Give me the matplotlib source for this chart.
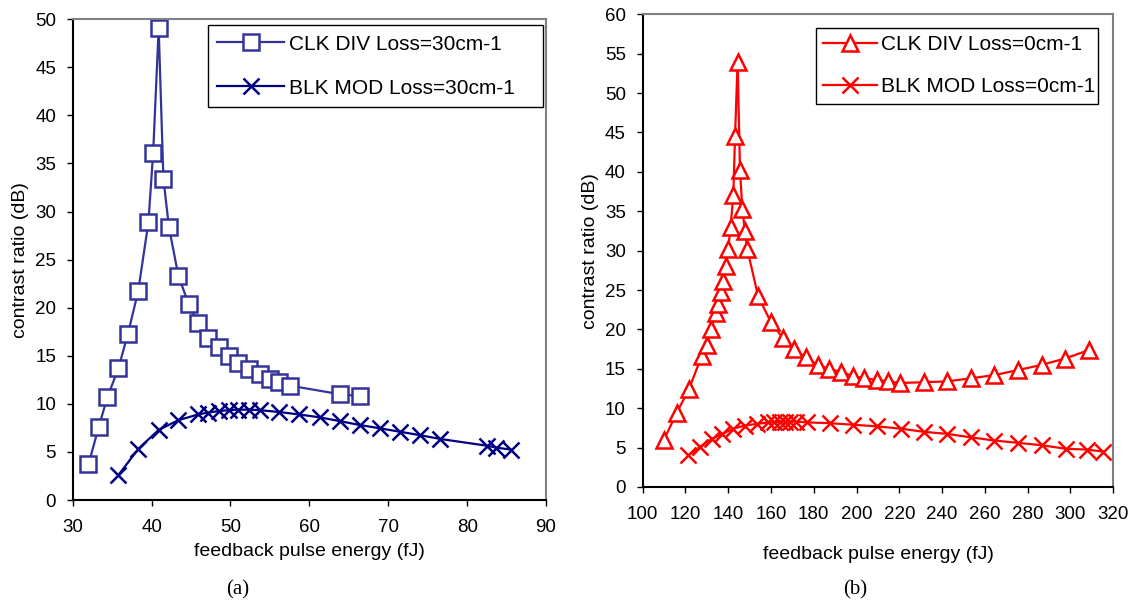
import numpy as np
import matplotlib
matplotlib.use('Agg')
import matplotlib.pyplot as plt

plt.rcParams['font.family'] = ['Liberation Sans', 'DejaVu Sans']

# (a) loss = 30 cm-1
x_a_clk = [32.0, 33.3, 34.4, 35.8, 37.0, 38.3, 39.6, 40.2, 40.9, 41.5, 42.2, 43.4, 44.7,
           45.9, 47.2, 48.5, 49.8, 51.0, 52.3, 53.7, 55.0, 56.2, 57.5, 63.9, 66.4]
y_a_clk = [3.7, 7.6, 10.7, 13.7, 17.3, 21.7, 28.9, 36.1, 49.1, 33.4, 28.4, 23.3, 20.4,
           18.4, 16.9, 15.9, 15.0, 14.2, 13.6, 13.1, 12.6, 12.3, 11.9, 11.0, 10.8]
x_a_blk = [35.8, 38.3, 40.9, 43.4, 45.9, 47.2, 48.5, 49.8, 51.0, 52.3, 53.7, 56.2, 58.7,
           61.3, 63.9, 66.4, 69.0, 71.5, 74.0, 76.6, 82.5, 83.7, 85.5]
y_a_blk = [2.6, 5.3, 7.3, 8.3, 8.9, 9.1, 9.25, 9.35, 9.4, 9.4, 9.35, 9.15, 8.9,
           8.6, 8.2, 7.8, 7.45, 7.1, 6.75, 6.35, 5.65, 5.45, 5.25]

# (b) loss = 0 cm-1
x_b_clk = [110.0, 115.9, 121.6, 127.6, 129.9, 131.9, 134.3, 135.3, 136.5, 137.4, 138.8,
           140.0, 141.1, 142.4, 143.2, 144.4, 145.5, 146.6, 147.8, 148.9, 154.0, 159.8,
           165.5, 170.7, 176.2, 181.8, 187.2, 192.7, 198.2, 203.6, 209.4, 214.8, 220.3,
           231.5, 242.1, 253.5, 264.4, 275.6, 286.5, 297.4, 308.8]
y_b_clk = [6.0, 9.4, 12.4, 16.6, 18.0, 20.0, 22.1, 23.2, 24.7, 26.2, 28.0,
           30.2, 33.0, 37.1, 44.6, 54.0, 40.3, 35.3, 32.5, 30.2, 24.2, 21.0,
           18.9, 17.5, 16.45, 15.5, 15.0, 14.6, 14.1, 13.8, 13.6, 13.4, 13.2,
           13.3, 13.4, 13.8, 14.2, 14.85, 15.5, 16.3, 17.4]
x_b_blk = [121.3, 126.8, 132.3, 136.9, 142.4, 147.8, 153.3, 158.7, 161.5, 164.0, 166.5,
           169.0, 171.5, 176.7, 187.4, 198.5, 209.4, 220.8, 231.5, 242.1, 253.5, 264.4,
           275.6, 286.5, 297.9, 307.6, 315.1]
y_b_blk = [4.0, 5.1, 6.1, 6.7, 7.4, 7.8, 8.0, 8.2, 8.2, 8.3, 8.3,
           8.3, 8.3, 8.2, 8.1, 7.9, 7.7, 7.4, 7.0, 6.75, 6.3, 5.9,
           5.6, 5.3, 4.85, 4.75, 4.5]

fig = plt.figure(figsize=(11.34, 6.01), dpi=100)
ax1 = fig.add_axes([0.0641, 0.168, 0.4174, 0.800])
ax2 = fig.add_axes([0.5667, 0.1897, 0.415, 0.7865])


def style_axes(ax):
    ax.spines['left'].set_color('black')
    ax.spines['bottom'].set_color('black')
    ax.spines['left'].set_linewidth(1.5)
    ax.spines['bottom'].set_linewidth(1.5)
    for s in ['top', 'right']:
        ax.spines[s].set_color('#808080')
        ax.spines[s].set_linewidth(1.5)
    ax.tick_params(direction='out', length=4, width=1, labelsize=13.5, top=False, right=False)
    ax.tick_params(axis='x', pad=10)
    ax.tick_params(axis='y', pad=8)


mk = dict(markersize=12, markeredgewidth=1.8, linewidth=1.6)

ax1.plot(x_a_clk, y_a_clk, color='#333399', marker='s', markerfacecolor='white',
         label='CLK DIV Loss=30cm-1', **mk)
ax1.plot(x_a_blk, y_a_blk, color='#000080', marker='x', label='BLK MOD Loss=30cm-1', **mk)
ax1.set_xlim(30, 90)
ax1.set_ylim(0, 50)
ax1.set_xticks(np.arange(30, 91, 10))
ax1.set_yticks(np.arange(0, 51, 5))
style_axes(ax1)
ax1.set_xlabel('feedback pulse energy (fJ)', fontsize=14, labelpad=5)
ax1.set_ylabel('contrast ratio (dB)', fontsize=14)
leg1 = ax1.legend(loc='upper left', bbox_to_anchor=(0.2859, 0.9875, 0.7078, 0.0),
                  mode='expand', borderaxespad=0, fontsize=15, numpoints=1,
                  handlelength=3.2, handletextpad=0.25, fancybox=False, framealpha=1,
                  edgecolor='black', borderpad=0.45, labelspacing=1.2)
leg1.get_frame().set_linewidth(1.0)

ax2.plot(x_b_clk, y_b_clk, color='#FF0000', marker='^', markerfacecolor='white',
         label='CLK DIV Loss=0cm-1', **mk)
ax2.plot(x_b_blk, y_b_blk, color='#FF0000', marker='x', label='BLK MOD Loss=0cm-1', **mk)
ax2.set_xlim(100, 320)
ax2.set_ylim(0, 60)
ax2.set_xticks(np.arange(100, 321, 20))
ax2.set_yticks(np.arange(0, 61, 5))
style_axes(ax2)
ax2.set_xlabel('feedback pulse energy (fJ)', fontsize=14, labelpad=16)
ax2.set_ylabel('contrast ratio (dB)', fontsize=14)
leg2 = ax2.legend(loc='upper left', bbox_to_anchor=(0.3683, 0.971, 0.5986, 0.0),
                  mode='expand', borderaxespad=0, fontsize=15, numpoints=1,
                  handlelength=2.6, handletextpad=0.15, fancybox=False, framealpha=1,
                  edgecolor='black', borderpad=0.35, labelspacing=1.1)
leg2.get_frame().set_linewidth(1.0)

fig.text(0.21, 0.018, '(a)', family='Liberation Serif', fontsize=15, ha='center', va='center')
fig.text(0.754, 0.018, '(b)', family='Liberation Serif', fontsize=15, ha='center', va='center')

fig.savefig('out.png', dpi=100)
